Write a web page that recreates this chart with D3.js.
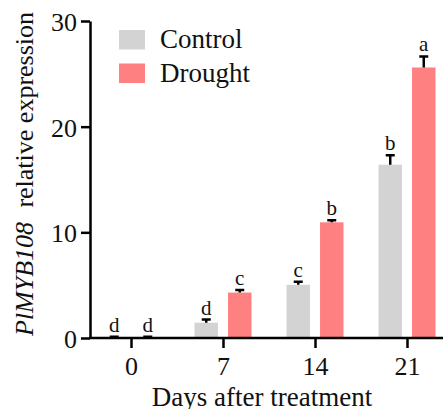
<!DOCTYPE html>
<html>
<head>
<meta charset="utf-8">
<script src="https://cdn.jsdelivr.net/npm/d3@7"></script>
<style>
  body { margin: 0; background: #fff; }
  text { font-family: "Liberation Serif", "Times New Roman", serif; fill: #111; }
</style>
</head>
<body>
<div id="chart"></div>
<script>
// Data
const days = ["0", "7", "14", "21"];
const series = ["Control", "Drought"];
const controlMean = [0.08, 1.45, 5.03, 16.4];
const controlErr = [0.05, 0.3, 0.3, 0.9];
const droughtMean = [0.08, 4.3, 10.95, 25.6];
const droughtErr = [0.05, 0.25, 0.2, 1.05];
const controlLetters = ["d", "d", "c", "b"];
const droughtLetters = ["d", "c", "b", "a"];
const yTicks = [0, 10, 20, 30];

const width = 443;
const height = 409;
const colors = { Control: "#d3d3d3", Drought: "#ff8080" };

const svg = d3.select("#chart")
    .append("svg")
    .attr("width", width)
    .attr("height", height);

const axisX0 = 90;
const y = d3.scaleLinear().domain([0, 30]).range([338, 21]);
const x = d3.scalePoint().domain(days).range([131, 407]);
const sub = d3.scaleBand().domain(series).range([-28.5, 28.5]).paddingInner(0.3);

// build rows
const rows = [];
days.forEach((d, i) => {
    rows.push({ day: d, s: "Control", v: controlMean[i], e: controlErr[i], l: controlLetters[i] });
    rows.push({ day: d, s: "Drought", v: droughtMean[i], e: droughtErr[i], l: droughtLetters[i] });
});

// bars
svg.selectAll(".bar")
    .data(rows)
    .join("rect")
    .attr("class", "bar")
    .attr("x", d => x(d.day) + sub(d.s))
    .attr("y", d => y(d.v))
    .attr("width", sub.bandwidth())
    .attr("height", d => y(0) - y(d.v))
    .attr("fill", d => colors[d.s]);

// error bars (upper half only)
const capW = 9;
svg.selectAll(".err")
    .data(rows)
    .join("path")
    .attr("class", "err")
    .attr("d", d => {
        const cx = x(d.day) + sub(d.s) + sub.bandwidth() / 2;
        const top = y(d.v + d.e);
        return `M${cx},${y(d.v)}V${top}M${cx - capW / 2},${top}H${cx + capW / 2}`;
    })
    .attr("stroke", "#000")
    .attr("stroke-width", 2.5)
    .attr("fill", "none");

// significance letters
svg.selectAll(".letter")
    .data(rows)
    .join("text")
    .attr("class", "letter")
    .attr("x", d => x(d.day) + sub(d.s) + sub.bandwidth() / 2)
    .attr("y", d => y(d.v + d.e) - 5)
    .attr("text-anchor", "middle")
    .style("font-size", "21px")
    .text(d => d.l);

// y axis
const yAxis = svg.append("g")
    .attr("transform", `translate(${axisX0},0)`)
    .call(d3.axisLeft(y).tickValues(yTicks).tickSize(9).tickSizeOuter(0).tickPadding(4));
yAxis.select(".domain").attr("stroke-width", 2.5);
yAxis.selectAll(".tick line").attr("stroke-width", 2.5);
yAxis.selectAll(".tick text")
    .style("font-size", "26px")
    .attr("dy", "0.36em")
    .attr("fill", "#111");

// x axis
const xAxis = svg.append("g")
    .attr("transform", `translate(0,${y(0)})`)
    .call(d3.axisBottom(x).tickSize(10).tickSizeOuter(0).tickPadding(9));
xAxis.select(".domain")
    .attr("d", `M${axisX0 - 1},0H${width}`)
    .attr("stroke-width", 2.5);
xAxis.selectAll(".tick line").attr("stroke-width", 2.5);
xAxis.selectAll(".tick text")
    .style("font-size", "26px")
    .attr("fill", "#111");

// axis titles
svg.append("text")
    .attr("x", 262)
    .attr("y", 406)
    .attr("text-anchor", "middle")
    .style("font-size", "27px")
    .text("Days after treatment");

const yTitle = svg.append("text")
    .attr("transform", "translate(33,174) rotate(-90)")
    .attr("text-anchor", "middle")
    .style("font-size", "26px");
yTitle.append("tspan").style("font-style", "italic").text("PlMYB108");
yTitle.append("tspan").attr("dx", "0.3em").text(" relative expression");

// legend
const legend = svg.append("g");
series.forEach((s, i) => {
    const g = legend.append("g").attr("transform", `translate(119,${30 + i * 33.5})`);
    g.append("rect").attr("width", 26).attr("height", 19.5).attr("fill", colors[s]);
    g.append("text").attr("x", 41).attr("y", 18).style("font-size", "27px").text(s);
});
</script>
</body>
</html>
